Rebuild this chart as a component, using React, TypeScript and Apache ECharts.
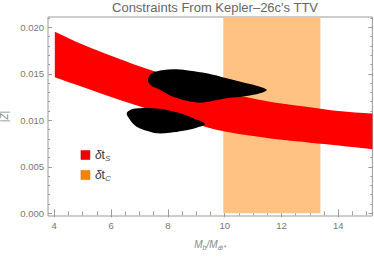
import React, { useEffect, useRef } from 'react';
import * as echarts from 'echarts';

const titleText = "Constraints From Kepler\u201326c's TTV";
const xRange = [3.78, 15.2];
const yRange = [-0.00029, 0.02111];
const xMajorTicks = [4, 6, 8, 10, 12, 14];
const xMinorTicks = [4.5, 5, 5.5, 6, 6.5, 7, 7.5, 8, 8.5, 9, 9.5, 10, 10.5, 11, 11.5, 12, 12.5, 13, 13.5, 14, 14.5, 15];
const yMajorTicks = [0, 0.005, 0.01, 0.015, 0.02];
const yMinorTicks = [0, 0.001, 0.002, 0.003, 0.004, 0.005, 0.006, 0.007, 0.008, 0.009, 0.01, 0.011, 0.012, 0.013, 0.014, 0.015, 0.016, 0.017, 0.018, 0.019, 0.02, 0.021];

// red band (delta t_S)
const bandX = [4.02, 5, 6, 7, 8, 9, 10, 11, 12, 13, 14, 15.2];
const bandUpper = [0.01953, 0.01815, 0.01695, 0.01582, 0.0148, 0.0138, 0.0130, 0.01235, 0.0118, 0.0114, 0.0110, 0.01072];
const bandLower = [0.01462, 0.01357, 0.0125, 0.0115, 0.0105, 0.00958, 0.0088, 0.00832, 0.0079, 0.0076, 0.0073, 0.0069];

// orange band (delta t_C)
const orangeX = [9.95, 13.37];
const orangeY = [0, 0.02111];

// black regions
const blobUpper: number[][] = [
  [7.31, 0.01452], [7.43, 0.01505], [7.84, 0.01541], [8.31, 0.01548], [8.78, 0.01533],
  [9.37, 0.01505], [10.07, 0.01452], [10.77, 0.01398], [11.24, 0.01361], [11.48, 0.01326],
  [11.24, 0.0129], [10.77, 0.01261], [10.07, 0.01237], [9.6, 0.01211], [9.13, 0.0119],
  [8.66, 0.01211], [8.19, 0.01254], [7.84, 0.01308], [7.61, 0.01344], [7.43, 0.01369],
  [7.31, 0.01415],
];
const blobLower: number[][] = [
  [6.55, 0.01075], [6.73, 0.01118], [7.02, 0.01129], [7.49, 0.01129], [7.96, 0.01111],
  [8.43, 0.01075], [8.89, 0.01022], [9.31, 0.0096], [9.01, 0.00921], [8.54, 0.00888],
  [8.07, 0.00867], [7.61, 0.0086], [7.25, 0.00888], [6.9, 0.00931], [6.67, 0.01003],
];

const legendNames = ['S', 'C'];

const FONT = 'Liberation Sans, Arial, sans-serif';
const frameColor = '#9a9a9a';
const labelColor = '#777';

function makeX(position: 'bottom' | 'top', ticks: number[], len: number, labels: boolean, extra: any = {}) {
  return {
    type: 'value',
    min: xRange[0],
    max: xRange[1],
    position,
    axisLine: { show: false },
    splitLine: { show: false },
    axisTick: { show: true, inside: true, length: len, customValues: ticks, lineStyle: { color: frameColor, width: 1 } },
    axisLabel: labels
      ? { show: true, customValues: ticks, color: labelColor, fontSize: 9.5, fontFamily: FONT, margin: 4 }
      : { show: false },
    ...extra,
  };
}

function makeY(position: 'left' | 'right', ticks: number[], len: number, labels: boolean, extra: any = {}) {
  return {
    type: 'value',
    min: yRange[0],
    max: yRange[1],
    position,
    axisLine: { show: false },
    splitLine: { show: false },
    axisTick: { show: true, inside: true, length: len, customValues: ticks, lineStyle: { color: frameColor, width: 1 } },
    axisLabel: labels
      ? {
          show: true,
          customValues: ticks,
          color: labelColor,
          fontSize: 9.5,
          fontFamily: FONT,
          margin: 4,
          formatter: (v: number) => v.toFixed(3),
        }
      : { show: false },
    ...extra,
  };
}

export default function App() {
  const ref = useRef<HTMLDivElement>(null);
  useEffect(() => {
    if (!ref.current) return;
    const chart = echarts.init(ref.current, undefined, { renderer: 'svg' });
    const option: any = {
      animation: false,
      backgroundColor: '#fff',
      title: {
        text: titleText,
        left: 210,
        textAlign: 'center',
        top: -4,
        textStyle: { fontFamily: FONT, fontSize: 13, fontWeight: 'normal', color: '#666' },
      },
      grid: {
        left: 48,
        top: 17,
        width: 324.4,
        height: 199,
        containLabel: false,
        outerBoundsMode: 'none',
        show: true,
        borderColor: frameColor,
        borderWidth: 1,
        backgroundColor: 'transparent',
      },
      legend: {
        orient: 'vertical',
        left: 75.7,
        top: 144,
        itemWidth: 9,
        itemHeight: 9,
        itemGap: 7,
        itemTextGap: 7,
        selectedMode: false,
        data: [
          { name: legendNames[0], icon: 'rect', itemStyle: { color: '#f00000', borderColor: '#c00000', borderWidth: 0.5 } },
          { name: legendNames[1], icon: 'rect', itemStyle: { color: '#f58400', borderColor: '#c86a00', borderWidth: 0.5 } },
        ],
        formatter: (n: string) => `{g|δ}{t|t}{s|${n}}`,
        textStyle: {
          rich: {
            g: { fontFamily: FONT, fontSize: 12, fontStyle: 'italic', color: '#333', lineHeight: 14 },
            t: { fontFamily: FONT, fontSize: 12, color: '#333', lineHeight: 14 },
            s: { fontFamily: FONT, fontSize: 8, fontStyle: 'italic', color: '#555', lineHeight: 8, verticalAlign: 'bottom' },
          },
        },
      },
      xAxis: [
        makeX('bottom', xMajorTicks, 4, true, {
          name: '{i|M}{s|b}{i|/M}{s|⊕*}',
          nameLocation: 'middle',
          nameGap: 21,
          nameTextStyle: {
            rich: {
              i: { fontFamily: FONT, fontSize: 10, fontStyle: 'italic', color: '#888', lineHeight: 14 },
              s: { fontFamily: FONT, fontSize: 7, fontStyle: 'italic', color: '#888', lineHeight: 7, verticalAlign: 'bottom' },
            },
          },
        }),
        makeX('bottom', xMinorTicks, 2, false),
        makeX('top', xMajorTicks, 4, false),
        makeX('top', xMinorTicks, 2, false),
      ],
      yAxis: [
        makeY('left', yMajorTicks, 4, true, {
          name: '|Z|',
          nameLocation: 'middle',
          nameGap: 38,
          nameTextStyle: { fontFamily: FONT, fontSize: 10, fontStyle: 'italic', color: '#888' },
        }),
        makeY('left', yMinorTicks, 2, false),
        makeY('right', yMajorTicks, 4, false),
        makeY('right', yMinorTicks, 2, false),
      ],
      series: [
        {
          type: 'custom',
          name: legendNames[1],
          xAxisIndex: 0,
          yAxisIndex: 0,
          clip: true,
          silent: true,
          z: 1,
          itemStyle: { color: '#f58400' },
          data: [[orangeX[0], orangeX[1], orangeY[0], orangeY[1]]],
          encode: { x: [0, 1], y: [2, 3] },
          renderItem: (params: any, api: any) => {
            const p0 = api.coord([api.value(0), api.value(3)]);
            const p1 = api.coord([api.value(1), api.value(2)]);
            return {
              type: 'rect',
              shape: { x: p0[0], y: p0[1], width: p1[0] - p0[0], height: p1[1] - p0[1] },
              style: { fill: '#ffc283' },
            };
          },
        },
        {
          type: 'custom',
          name: legendNames[0],
          xAxisIndex: 0,
          yAxisIndex: 0,
          clip: true,
          silent: true,
          z: 2,
          itemStyle: { color: '#f00000' },
          data: bandX.map((x, i) => [x, bandLower[i], bandUpper[i]]),
          encode: { x: 0, y: [1, 2] },
          renderItem: (params: any, api: any) => {
            if (params.dataIndex !== 0) return null;
            const up = bandX.map((x, i) => api.coord([x, bandUpper[i]]));
            const lo = bandX.map((x, i) => api.coord([x, bandLower[i]])).reverse();
            const pts = [up[0], ...up, up[up.length - 1], lo[0], ...lo, lo[lo.length - 1]];
            return {
              type: 'polygon',
              shape: { points: pts, smooth: 0.35 },
              style: { fill: '#ff0000' },
            };
          },
        },
        ...[blobUpper, blobLower].map((blob) => ({
          type: 'custom',
          xAxisIndex: 0,
          yAxisIndex: 0,
          clip: true,
          silent: true,
          z: 3,
          data: blob,
          encode: { x: 0, y: 1 },
          renderItem: (params: any, api: any) => {
            if (params.dataIndex !== 0) return null;
            const pts = blob.map((p) => api.coord(p));
            return {
              type: 'polygon',
              shape: { points: pts, smooth: 0.35 },
              style: { fill: '#000' },
            };
          },
        })),
      ],
    };
    chart.setOption(option);
    return () => chart.dispose();
  }, []);
  return <div ref={ref} style={{ position: 'fixed', left: 0, top: 0, width: 374, height: 257 }} />;
}
